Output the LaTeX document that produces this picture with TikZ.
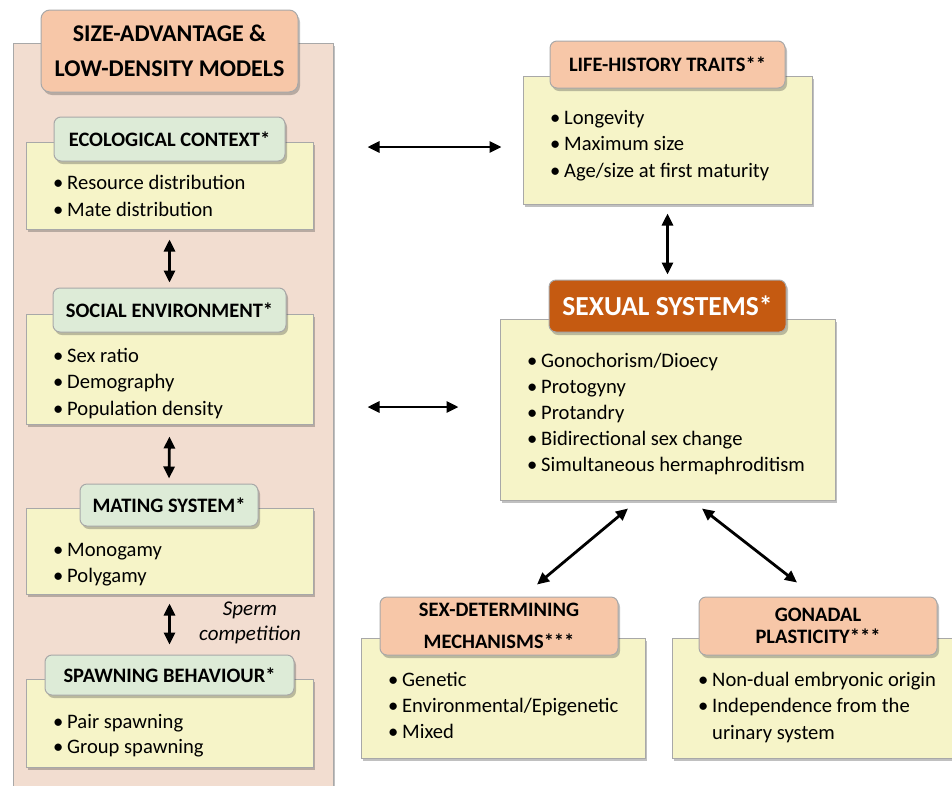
\documentclass[tikz,border=0pt]{standalone}
\usepackage{fontspec}
\setmainfont{Carlito}
\usetikzlibrary{arrows.meta,shadows}
\definecolor{panelfill}{HTML}{F2DDD0}
\definecolor{peach}{HTML}{F7C7A8}
\definecolor{mint}{HTML}{DDEBD7}
\definecolor{pale}{HTML}{F6F4C8}
\definecolor{rust}{HTML}{C55A11}
\definecolor{edge}{HTML}{A8A8A8}
\tikzset{
  shd/.style={drop shadow={shadow xshift=2pt,shadow yshift=-3pt,opacity=0.35,fill=black!70}},
  boxsize/.style 2 args={minimum width=#1pt,minimum height=#2pt,inner sep=0pt},
  panelbox/.style={draw=edge,line width=1pt,fill=panelfill,shd},
  listbox/.style={draw=edge,line width=1pt,fill=pale,shd},
  headbox/.style={draw=edge,line width=1pt,rounded corners=7pt,shd,align=center,
     font=\fontsize{20.5}{24}\selectfont\bfseries},
  peachhead/.style={headbox,fill=peach},
  minthead/.style={headbox,fill=mint},
  listtxt/.style={anchor=base west,inner sep=0pt,font=\fontsize{20.6}{24}\selectfont},
  dblarrow/.style={{Triangle[length=12pt,width=11pt]}-{Triangle[length=12pt,width=11pt]},line width=2.8pt,black},
}
\newcommand{\bul}{\makebox[14pt][l]{•}}
\begin{document}
\begin{tikzpicture}[x=1pt,y=-1pt]
\useasboundingbox (0,0) rectangle (952,785);
\fill[white] (0,0) rectangle (952,785);
% left panel
\node[panelbox,boxsize={320}{757}] (panel) at (173,421.5) {};
\node[peachhead,boxsize={257}{82},rounded corners=9pt,font=\fontsize{24}{35}\selectfont\bfseries] (title) at (169.5,51) {SIZE-ADVANTAGE \&\\LOW-DENSITY MODELS};
% ecological context
\node[listbox,boxsize={287}{87}] (ecoY) at (169.5,185.5) {};
\node[minthead,boxsize={231}{44}] (ecoH) at (169.5,139) {ECOLOGICAL CONTEXT*};
\foreach \t [count=\i] in {Resource distribution,Mate distribution}
  \node[listtxt] (eco-\i) at (53,{189+27*(\i-1)}) {\bul\t};
% social environment
\node[listbox,boxsize={287}{110}] (socY) at (169.5,369) {};
\node[minthead,boxsize={233}{44}] (socH) at (169.5,310) {SOCIAL ENVIRONMENT*};
\foreach \t [count=\i] in {Sex ratio,Demography,Population density}
  \node[listtxt] (soc-\i) at (53,{362+26.5*(\i-1)}) {\bul\t};
% mating system
\node[listbox,boxsize={287}{86}] (matY) at (169.5,551) {};
\node[minthead,boxsize={178}{42}] (matH) at (169,505) {MATING SYSTEM*};
\foreach \t [count=\i] in {Monogamy,Polygamy}
  \node[listtxt] (mat-\i) at (53,{556+26*(\i-1)}) {\bul\t};
% spawning behaviour
\node[listbox,boxsize={287}{88}] (spaY) at (169.5,723) {};
\node[minthead,boxsize={249}{40}] (spaH) at (169.5,675) {SPAWNING BEHAVIOUR*};
\foreach \t [count=\i] in {Pair spawning,Group spawning}
  \node[listtxt] (spa-\i) at (53,{728+25*(\i-1)}) {\bul\t};
\node[align=center,inner sep=0pt,font=\fontsize{21}{25}\selectfont\itshape] (sperm) at (250,623) {Sperm\\competition};
% life-history traits
\node[listbox,boxsize={289}{128}] (lifeY) at (667.5,140) {};
\node[peachhead,boxsize={235}{47}] (lifeH) at (667.5,64.5) {LIFE-HISTORY TRAITS**};
\foreach \t [count=\i] in {Longevity,Maximum size,Age/size at first maturity}
  \node[listtxt] (life-\i) at (550,{124+26.5*(\i-1)}) {\bul\t};
% sexual systems
\node[listbox,boxsize={335}{181}] (sexY) at (667.5,409.5) {};
\node[headbox,fill=rust,text=white,boxsize={237}{52},font=\fontsize{27.5}{30}\selectfont\bfseries] (sexH) at (667.5,306) {SEXUAL SYSTEMS*};
\foreach \t [count=\i] in {Gonochorism/Dioecy,Protogyny,Protandry,Bidirectional sex change,Simultaneous hermaphroditism}
  \node[listtxt] (sex-\i) at (527,{367+26*(\i-1)}) {\bul\t};
% sex-determining mechanisms
\node[listbox,boxsize={284}{120}] (sdY) at (503,698) {};
\node[peachhead,boxsize={238}{58},font=\fontsize{20.5}{32}\selectfont\bfseries] (sdH) at (499,626) {SEX-DETERMINING\\MECHANISMS***};
\foreach \t [count=\i] in {Genetic,Environmental/Epigenetic,Mixed}
  \node[listtxt] (sd-\i) at (388,{686+26*(\i-1)}) {\bul\t};
% gonadal plasticity
\node[listbox,boxsize={293}{120}] (gY) at (818.5,698) {};
\node[peachhead,boxsize={238}{58},font=\fontsize{20.5}{22}\selectfont\bfseries] (gH) at (818,626) {GONADAL\\PLASTICITY***};
\node[listtxt] (g-1) at (698,686) {\bul Non-dual embryonic origin};
\node[listtxt] (g-2) at (698,712) {\bul Independence from the};
\node[listtxt] (g-3) at (712,739) {urinary system};
% arrows
\draw[dblarrow] ([yshift=-10pt]ecoY.south) -- ([yshift=5pt]socH.north);
\draw[dblarrow] ([yshift=-12pt]socY.south) -- ([yshift=5pt]matH.north);
\draw[dblarrow] ([yshift=-9pt]matY.south) -- ([yshift=10pt]spaH.north);
\draw[dblarrow] ([xshift=34pt,yshift=274.5pt]panel.east) -- ([xshift=-21pt,yshift=-7pt]lifeY.west);
\draw[dblarrow] ([xshift=34pt,yshift=14.5pt]panel.east) -- ([xshift=-41pt,yshift=2.5pt]sexY.west);
\draw[dblarrow] ([yshift=-9pt]lifeY.south) -- ([yshift=5pt]sexH.north);
\draw[dblarrow] ([xshift=-39.5pt,yshift=-8pt]sexY.south) -- ([xshift=38pt,yshift=12pt]sdH.north);
\draw[dblarrow] ([xshift=34.5pt,yshift=-8pt]sexY.south) -- ([xshift=-21pt,yshift=14pt]gH.north);
\end{tikzpicture}
\end{document}
